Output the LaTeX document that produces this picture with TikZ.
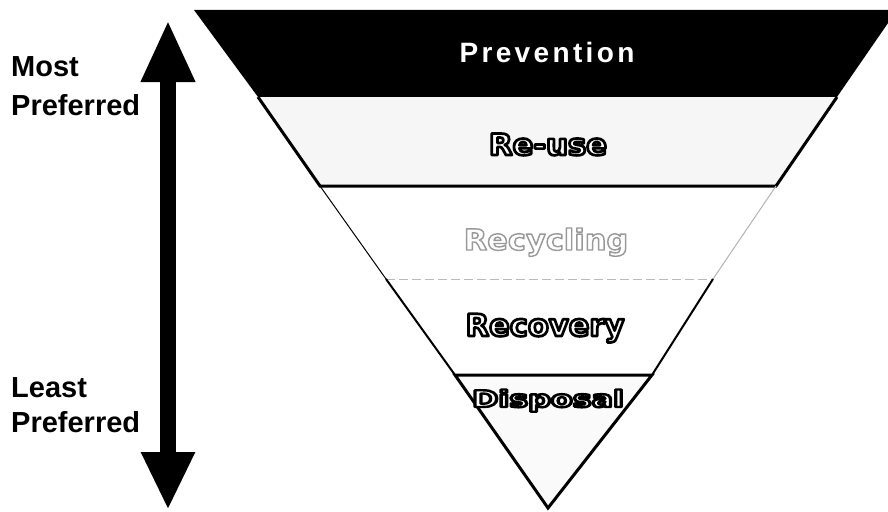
\documentclass[tikz,border=0pt]{standalone}
\usepackage{fontspec}
\setmainfont{Liberation Sans}
\newfontfamily\dvb{DejaVu Sans}
\usetikzlibrary{arrows.meta}
% outlined text: #1 stroke grey level, #2 stroke width, #3 text
\newcommand\strokedtext[3]{\special{pdf:literal direct q #1 G #2 w 1 j 1 J 2 Tr}#3\special{pdf:literal direct Q}}
\tikzset{
  sidelabel/.style={anchor=base west, font=\bfseries\fontsize{29}{31}\selectfont, inner sep=0pt},
  outl/.style={anchor=base, text=white, inner sep=0pt, font=\dvb\bfseries\fontsize{#1}{#1}\selectfont},
  edge/.style={line width=3pt, line join=miter},
  thinedge/.style={line width=1pt},
}
\begin{document}
\begin{tikzpicture}[x=1pt,y=-1pt]
\useasboundingbox (0,0) rectangle (888,511);
\clip (0,0) rectangle (888,511);
% coordinates
\coordinate (a0) at (194,10);
\coordinate (b0) at (897,10);
\coordinate (a1) at (258,97);
\coordinate (b1) at (837,97);
\coordinate (a2) at (320,186);
\coordinate (b2) at (776,186);
\coordinate (a3) at (386,279);
\coordinate (b3) at (713,279);
\coordinate (a4) at (455,375);
\coordinate (b4) at (652,375);
\coordinate (tip) at (548,508);
% bands
\fill[black] (a0) -- (b0) -- (b1) -- (a1) -- cycle;
\fill[gray!7] (a1) -- (b1) -- (b2) -- (a2) -- cycle;
\draw[edge] (a1) -- (a2) -- (b2) -- (b1);
\draw[thinedge] (a2) -- (a3);
\draw[thinedge, gray!60] (b2) -- (b3);
\draw[thinedge, gray!55, dash pattern=on 9pt off 4pt] (a3) -- (b3);
\draw[line width=2pt] (a3) -- (a4);
\draw[line width=2pt] (b3) -- (b4);
\fill[gray!4] (a4) -- (b4) -- (tip) -- cycle;
\draw[edge] (a4) -- (b4) -- (tip) -- cycle;
% arrow
\coordinate (atop) at (168,20);
\coordinate (abot) at (168,510);
\draw[line width=16pt, {Triangle[width=50pt,length=62pt]}-{Triangle[width=50pt,length=58pt]}] (atop) -- (abot);
% side labels
\node[sidelabel] (most) at (11,77) {Most};
\node[sidelabel] (pref1) at (11,115) {Preferred};
\node[sidelabel] (least) at (11,397) {Least};
\node[sidelabel] (pref2) at (11,432) {Preferred};
% level labels
\node[anchor=base, text=white, inner sep=0pt, font=\bfseries\fontsize{28}{30}\selectfont\addfontfeature{LetterSpace=12}] (prev) at (547,63) {Prevention};
\node[outl=29.5, xscale=1.04] (reuse) at (548,155) {\strokedtext{0}{2.7}{Re-use}};
\node[outl=29, xscale=1.05] (recyc) at (546,250) {\strokedtext{0.6}{1.4}{Recycling}};
\node[outl=30.5] (recov) at (545,336) {\strokedtext{0}{2.7}{Recovery}};
\node[outl=23, xscale=1.38] (disp) at (548,407) {\strokedtext{0}{2.4}{Disposal}};
\end{tikzpicture}
\end{document}
